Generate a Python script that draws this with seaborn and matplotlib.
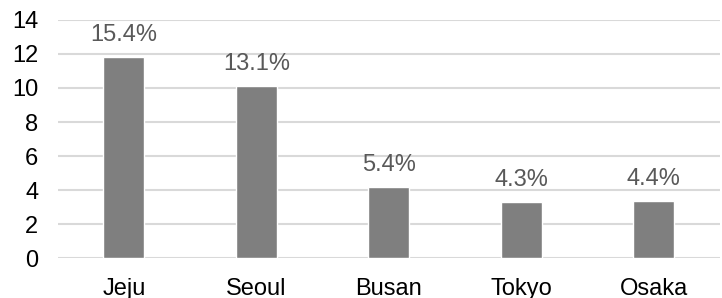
import matplotlib.pyplot as plt
import pandas as pd
import seaborn as sns

ciudades = ['Jeju', 'Seoul', 'Busan', 'Tokyo', 'Osaka']
valores = [11.8, 10.1, 4.16, 3.29, 3.33]
etiquetas = ['15.4%', '13.1%', '5.4%', '4.3%', '4.4%']

df = pd.DataFrame({'ciudad': ciudades, 'valor': valores})

sns.set_style('white')
plt.rcParams['font.family'] = ['Liberation Sans', 'DejaVu Sans']

fig, ax = plt.subplots(figsize=(7.22, 2.98), dpi=100)
fig.subplots_adjust(left=0.08, right=0.997, bottom=0.134, top=0.933)

sns.barplot(data=df, x='ciudad', y='valor', color='#7f7f7f', width=0.31,
            saturation=1, ax=ax, zorder=3)

for i, txt in enumerate(etiquetas):
    ax.annotate(txt, (i, valores[i]), xytext=(0, 8), textcoords='offset points',
                ha='center', va='bottom', fontsize=17, color='#595959')

ax.set_ylim(0, 14)
ax.set_xlim(-0.5, 4.5)
ax.set_yticks(range(0, 15, 2))
ax.yaxis.grid(True, color='#d9d9d9', linewidth=1.5, zorder=0)
ax.set_axisbelow(True)
for s in ax.spines.values():
    s.set_visible(False)
ax.tick_params(axis='both', length=0, labelsize=17, colors='black')
ax.tick_params(axis='x', pad=14)
ax.tick_params(axis='y', pad=14)
ax.set_xlabel('')
ax.set_ylabel('')

plt.savefig('out.png', dpi=100)
